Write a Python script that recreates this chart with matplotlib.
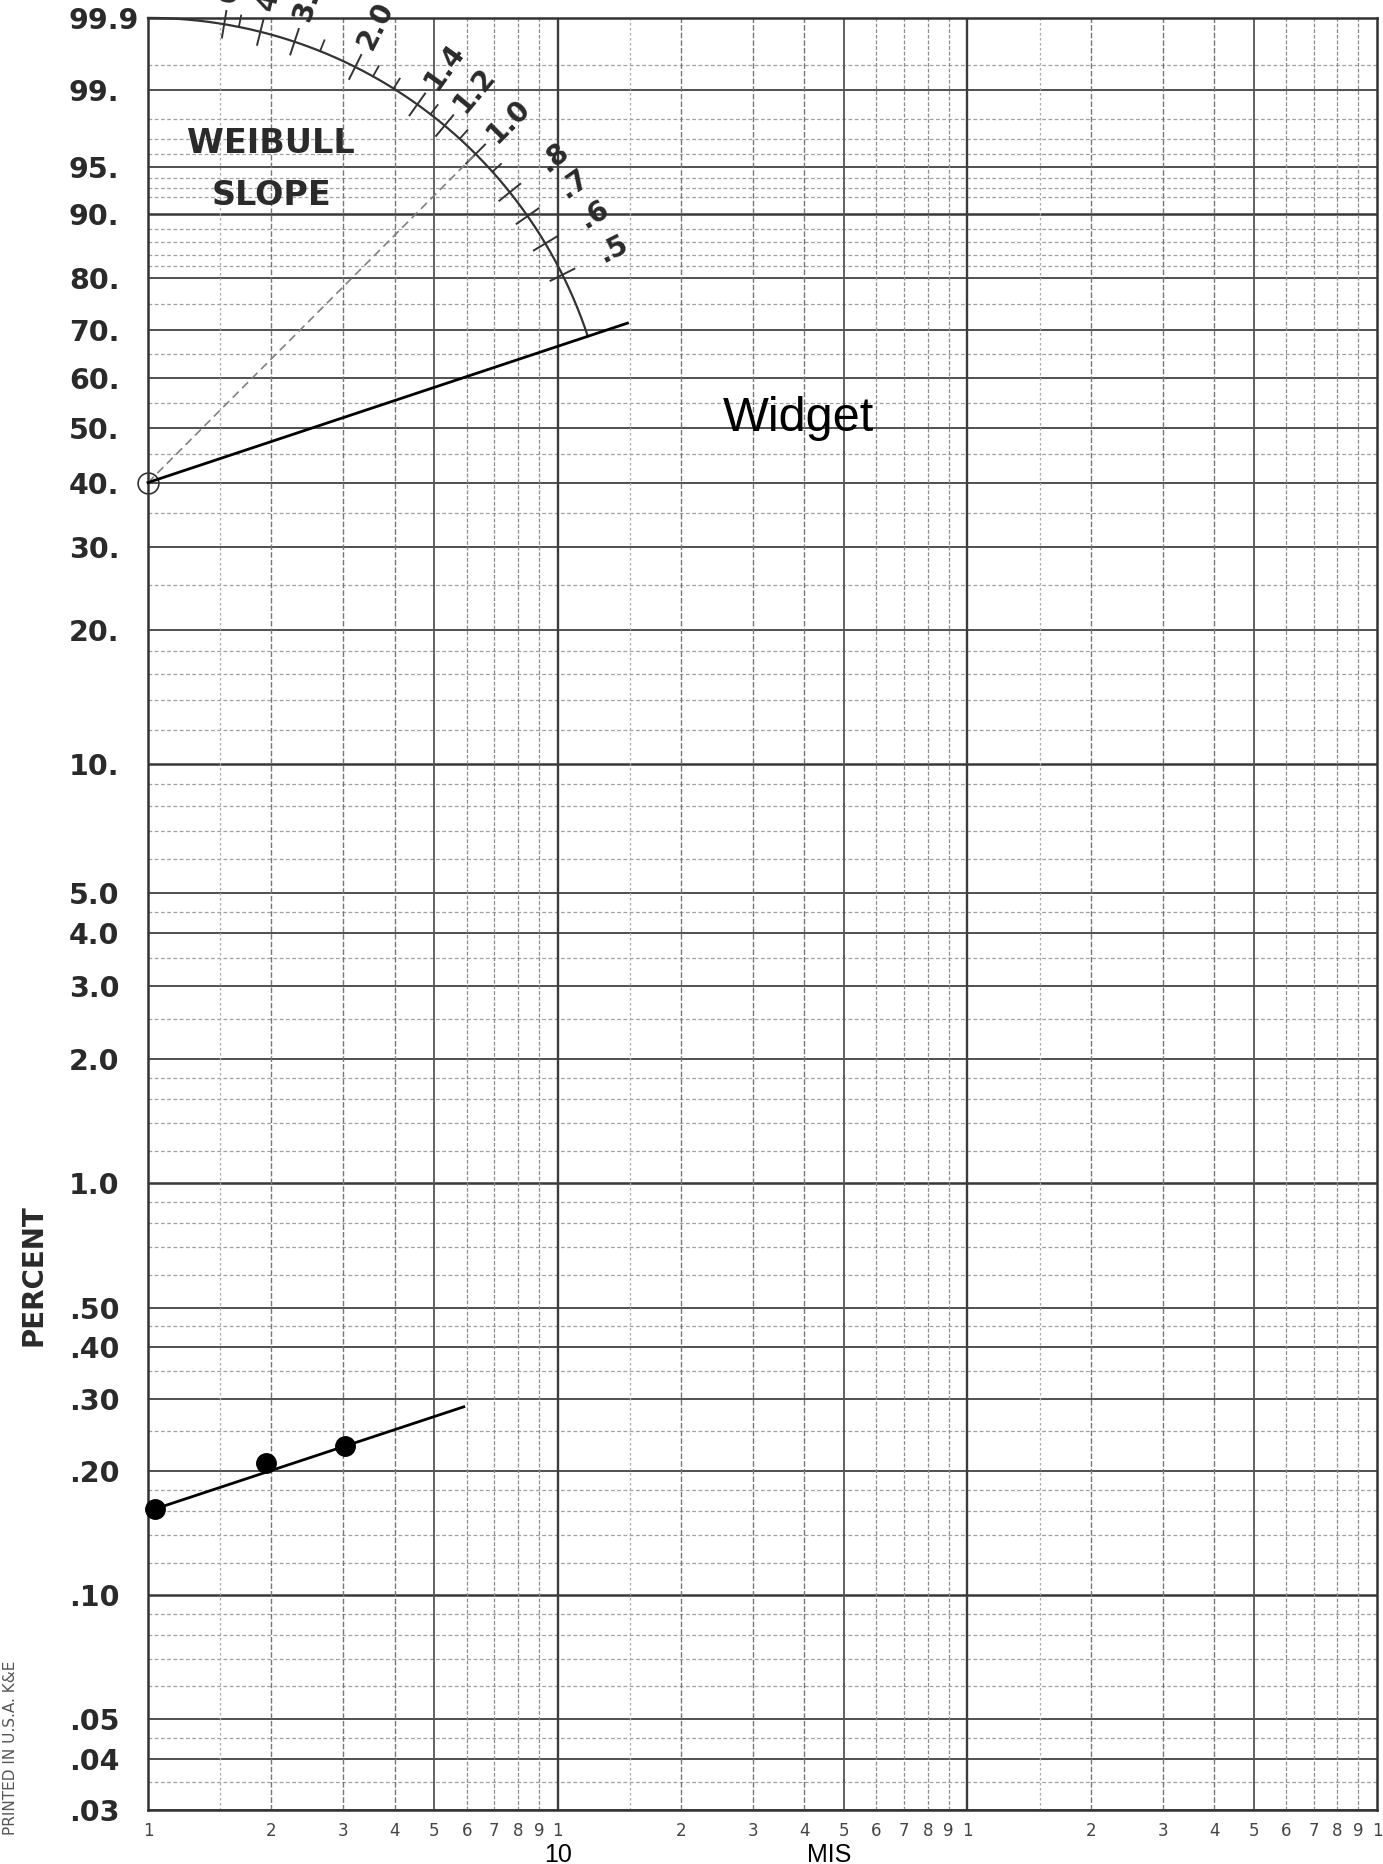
import numpy as np
import matplotlib
matplotlib.use('Agg')
import matplotlib.pyplot as plt
from matplotlib.transforms import blended_transform_factory


# Weibull probability axis: w = ln(-ln(1 - F))
def weib(p):
    p = np.clip(np.asarray(p, dtype=float), 1e-7, 99.999999)
    return np.log(-np.log(1.0 - p / 100.0))


def weib_inv(w):
    return 100.0 * (1.0 - np.exp(-np.exp(np.asarray(w, dtype=float))))


# percent axis
pct_ticks = [99.9, 99, 95, 90, 80, 70, 60, 50, 40, 30, 20, 10,
             5, 4, 3, 2, 1, 0.5, 0.4, 0.3, 0.2, 0.1, 0.05, 0.04, 0.03]
pct_labels = ['99.9', '99.', '95.', '90.', '80.', '70.', '60.', '50.', '40.', '30.',
              '20.', '10.', '5.0', '4.0', '3.0', '2.0', '1.0', '.50', '.40', '.30',
              '.20', '.10', '.05', '.04', '.03']
pct_heavy = [90, 10, 1, 0.1]
pct_minor = [99.5, 98, 97, 96, 94, 93, 92, 88, 86, 84, 82, 75, 65, 55, 45, 35, 25,
             18, 16, 14, 12, 9, 8, 7, 6, 4.5, 3.5, 2.5, 1.8, 1.6, 1.4, 1.2,
             0.9, 0.8, 0.7, 0.6, 0.45, 0.35, 0.25, 0.18, 0.16, 0.14, 0.12,
             0.09, 0.08, 0.07, 0.06, 0.045, 0.035]

# MIS axis (log cycles)
mis_ticks = [1, 2, 3, 4, 5, 6, 7, 8, 9, 10, 20, 30, 40, 50, 60, 70, 80, 90,
             100, 200, 300, 400, 500, 600, 700, 800, 900, 1000]
mis_labels = ['1', '2', '3', '4', '5', '6', '7', '8', '9'] * 3 + ['1']
mis_decade = [10, 100]
mis_five = [5, 50, 500]
mis_mid = [2, 3, 4, 20, 30, 40, 200, 300, 400]
mis_high = [6, 7, 8, 9, 60, 70, 80, 90, 600, 700, 800, 900]
mis_half = [1.5, 15, 150]

# Weibull slope protractor
origin_mis = 1.0
origin_pct = 40.0
slope_major = [6.0, 4.0, 3.0, 2.0, 1.4, 1.2, 1.0, 0.8, 0.7, 0.6, 0.5]
slope_labels = ['6.0', '4.0', '3.0', '2.0', '1.4', '1.2', '1.0', '.8', '.7', '.6', '.5']
slope_minor = [5.0, 2.5, 1.8, 1.6, 1.3, 1.1, 0.9]
slope_ref = 1.0

# Widget line and the plotted failures
widget_mis = [1.0, 14.8]
widget_pct = [40.0, 71.3]
fail_mis = [1.04, 1.94, 3.02]
fail_pct = [0.162, 0.210, 0.231]
fit_mis = [1.04, 5.9]
fit_pct = [0.162, 0.287]

fig = plt.figure(figsize=(13.83, 18.64), dpi=100)
ax = fig.add_axes([0.107, 0.029, 0.8887, 0.9614])
ax.set_xscale('log')
ax.set_yscale('function', functions=(weib, weib_inv))
ax.set_xlim(1, 1000)
ax.set_ylim(0.03, 99.9)

# grid of the paper
for p in pct_minor:
    ax.axhline(p, color='#a0a0a0', lw=0.9, ls=(0, (3, 2)), zorder=1)
for p in pct_ticks:
    heavy = p in pct_heavy
    ax.axhline(p, color='#383838' if heavy else '#505050', lw=1.8 if heavy else 1.4, zorder=1)
for x in mis_half:
    ax.axvline(x, color='#aaaaaa', lw=0.9, ls=(0, (2, 2)), zorder=1)
for x in mis_high:
    ax.axvline(x, color='#8c8c8c', lw=0.9, ls=(0, (3, 1.5)), zorder=1)
for x in mis_mid:
    ax.axvline(x, color='#777777', lw=1.0, ls=(0, (4, 1.5)), zorder=1)
for x in mis_five:
    ax.axvline(x, color='#555555', lw=1.3, zorder=1)
for x in mis_decade:
    ax.axvline(x, color='#3c3c3c', lw=1.7, zorder=1)

for s in ax.spines.values():
    s.set_color('#333333')
    s.set_linewidth(1.8)

ax.minorticks_off()
ax.set_xticks(mis_ticks, mis_labels)
ax.set_yticks(pct_ticks, pct_labels)
ax.tick_params(axis='x', length=0, pad=9, labelsize=12, labelcolor='#444444')
ax.tick_params(axis='y', length=0, pad=57, labelsize=20.5, labelcolor='#2a2a2a')
for lab in ax.get_yticklabels():
    lab.set_fontweight('bold')
    lab.set_ha('left')

# slope protractor: circle around the origin point, in ln(MIS) / Weibull units
lx0 = np.log(origin_mis)
w0 = weib(origin_pct)
r = weib(99.9) - w0
widget_slope = (weib(widget_pct[1]) - weib(widget_pct[0])) / np.log(widget_mis[1] / widget_mis[0])

th = np.linspace(np.arctan(widget_slope), np.pi / 2, 400)
ax.plot(np.exp(lx0 + r * np.cos(th)), weib_inv(w0 + r * np.sin(th)),
        color='#333333', lw=1.6, zorder=3, clip_on=False)

for b in slope_major:
    t = np.arctan(b)
    rr = np.array([r - 0.075, r + 0.075])
    ax.plot(np.exp(lx0 + rr * np.cos(t)), weib_inv(w0 + rr * np.sin(t)),
            color='#333333', lw=1.4, zorder=3, clip_on=False)
for b in slope_minor:
    t = np.arctan(b)
    rr = np.array([r, r + 0.065])
    ax.plot(np.exp(lx0 + rr * np.cos(t)), weib_inv(w0 + rr * np.sin(t)),
            color='#333333', lw=1.3, zorder=3, clip_on=False)
for b, lab in zip(slope_major, slope_labels):
    t = np.arctan(b)
    rl = r + 0.40
    ax.text(np.exp(lx0 + rl * np.cos(t)), weib_inv(w0 + rl * np.sin(t)), lab,
            rotation=np.degrees(t), rotation_mode='anchor', ha='right', va='center',
            fontsize=20, fontweight='bold', color='#2a2a2a', zorder=4, clip_on=False)

t = np.arctan(slope_ref)
ax.plot([origin_mis, np.exp(lx0 + r * np.cos(t))], [origin_pct, weib_inv(w0 + r * np.sin(t))],
        color='#808080', lw=1.2, ls=(0, (5, 3)), zorder=3)

ax.text(2.0, 96.1, 'WEIBULL', ha='center', va='baseline', fontsize=24,
        fontweight='bold', color='#2a2a2a', zorder=4)
ax.text(2.0, 91.1, 'SLOPE', ha='center', va='baseline', fontsize=24,
        fontweight='bold', color='#2a2a2a', zorder=4)

ax.plot(origin_mis, origin_pct, marker='o', ms=15, mfc='none', mec='#333333',
        mew=1.2, zorder=5, clip_on=False)

# widget estimate and failures
ax.plot(widget_mis, widget_pct, color='black', lw=2.0, zorder=5, clip_on=False)
ax.text(38.6, 49.5, 'Widget', ha='center', va='baseline', fontsize=35,
        family='Liberation Sans', color='black', zorder=6)
ax.plot(fit_mis, fit_pct, color='black', lw=2.0, zorder=5)
ax.plot(fail_mis, fail_pct, 'o', color='black', ms=14, zorder=6, clip_on=False)

bt = blended_transform_factory(ax.transData, fig.transFigure)
ax.text(10, 1 - 1843 / 1864, '10', transform=bt, ha='center', va='top',
        fontsize=18, family='Liberation Sans', color='black', clip_on=False)
ax.text(46, 1 - 1843 / 1864, 'MIS', transform=bt, ha='center', va='top',
        fontsize=18, family='Liberation Sans', color='black', clip_on=False)

fig.text(33 / 1383, 1 - 1275 / 1864, 'PERCENT', rotation=90, ha='center', va='center',
         fontsize=20, fontweight='bold', color='#2a2a2a')
fig.text(11 / 1383, 1 - 1748 / 1864, 'PRINTED IN U.S.A. K&E', rotation=90, ha='center',
         va='center', fontsize=11, color='#555555')

fig.savefig('out.png', dpi=100)
